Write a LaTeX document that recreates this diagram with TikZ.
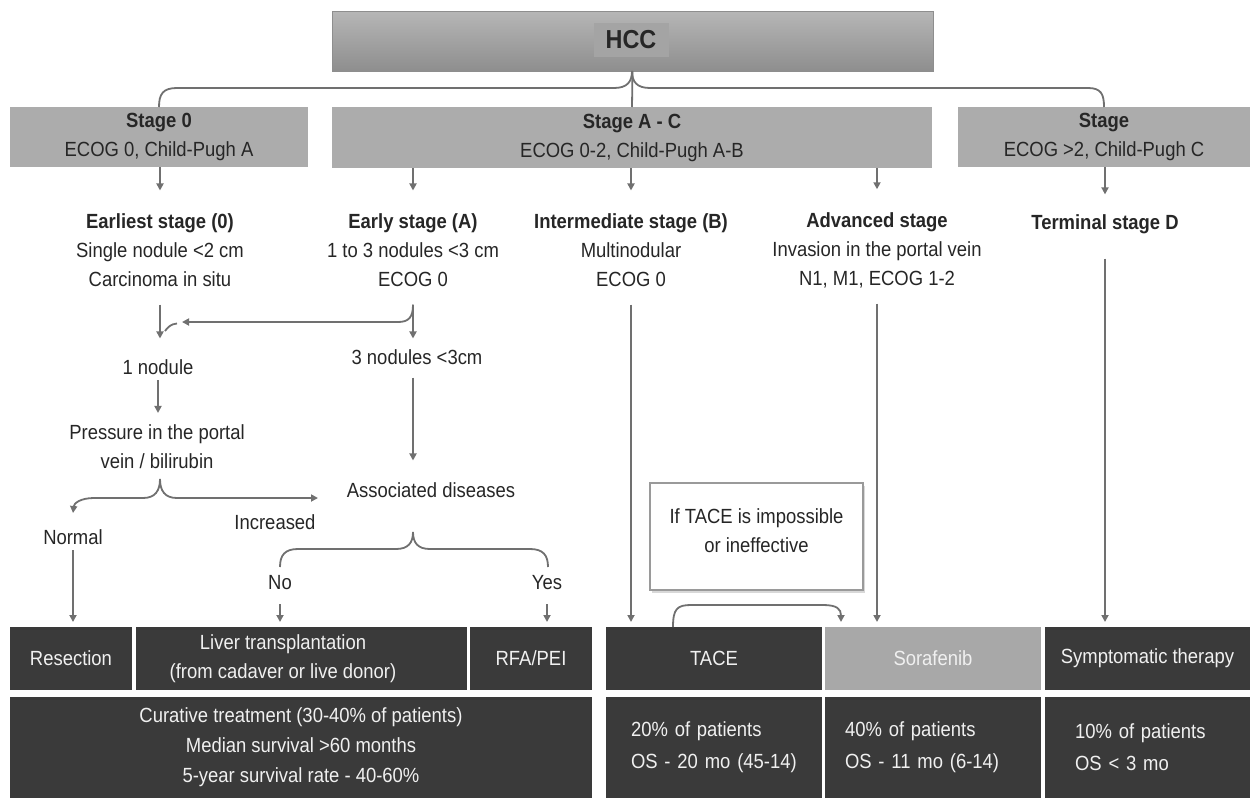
\documentclass[tikz,border=0pt]{standalone}
\usepackage{fontspec}
\setmainfont{Liberation Sans}[FakeStretch=0.9]
\usetikzlibrary{arrows.meta,shadows}
\definecolor{stagegray}{HTML}{ACACAC}
\definecolor{darkcell}{HTML}{3A3A3A}
\definecolor{linegray}{HTML}{707070}
\definecolor{sorgray}{HTML}{A8A8A8}
\definecolor{txtgray}{HTML}{262626}
\definecolor{hcctop}{HTML}{B6B6B6}
\definecolor{hccbot}{HTML}{8E8E8E}
\definecolor{hcclab}{HTML}{A4A4A4}
\definecolor{notegray}{HTML}{9A9A9A}
\begin{document}
\begin{tikzpicture}[x=1pt,y=-1pt,
  every node/.style={inner sep=0pt, outer sep=0pt, font=\fontsize{20.5}{29}\selectfont, text=txtgray},
  stagebox/.style={fill=stagegray, anchor=north west, align=center},
  cellbox/.style={fill=darkcell, anchor=north west, text=white!94!black, align=center},
  celltext/.style={text=white!94!black, align=center},
  coltext/.style={align=center},
  conn/.style={draw=linegray, line width=1.8pt},
  arr/.style={conn, -{Triangle[length=7pt,width=7pt]}},
]
\useasboundingbox (0,0) rectangle (1250,798);

% top box
\node[draw=hccbot, top color=hcctop, bottom color=hccbot, minimum width=601pt, minimum height=60pt, anchor=north west] (hcc) at (332,11) {};
\node[fill=hcclab, minimum width=75pt, minimum height=34pt, font=\fontsize{26}{30}\selectfont\bfseries] (hcclabel) at (631,40) {HCC};

% stage boxes
\node[stagebox, minimum width=298pt, minimum height=60pt] (s0) at (10,107) {\textbf{Stage 0}\\ECOG 0, Child-Pugh A};
\node[stagebox, minimum width=600pt, minimum height=61pt] (sac) at (332,107) {\textbf{Stage A - C}\\ECOG 0-2, Child-Pugh A-B};
\node[stagebox, minimum width=292pt, minimum height=60pt] (sd) at (958,107) {\textbf{Stage}\\ECOG >2, Child-Pugh C};

% brace from HCC
\draw[conn] (s0.north) .. controls (159,94) and (163,88) .. (177,88) -- (614,88) .. controls (627,88) and (632,82) .. (632,71);
\draw[conn] (632,71) .. controls (632,82) and (637,88) .. (650,88) -- (1088,88) .. controls (1101,88) and (1104,94) .. (sd.north);
\draw[conn] (hcc.south) -- (sac.north);

% column texts
\node[coltext] (c1) at (160,250) {\textbf{Earliest stage (0)}\\Single nodule <2 cm\\Carcinoma in situ};
\node[coltext] (c2) at (413,250) {\textbf{Early stage (A)}\\1 to 3 nodules <3 cm\\ECOG 0};
\node[coltext] (c3) at (631,250) {\textbf{Intermediate stage (B)}\\Multinodular\\ECOG 0};
\node[coltext] (c4) at (877,250) {\textbf{Advanced stage}\\Invasion in the portal vein\\N1, M1, ECOG 1-2};
\node (c5) at (1105,224) {\textbf{Terminal stage D}};

\draw[arr, shorten >=23pt] (c1.north |- s0.south) -- (c1.north);
\draw[arr, shorten >=23pt] (c2.north |- sac.south) -- (c2.north);
\draw[arr, shorten >=23pt] (c3.north |- sac.south) -- (c3.north);
\draw[arr, shorten >=23pt] (c4.north |- sac.south) -- (c4.north);
\draw[arr, shorten >=20pt] (c5.north |- sd.south) -- (c5.north);

% left flow
\node (n1) at (158,367) {1 nodule};
\node (n3) at (417,357) {3 nodules <3cm};
\node[coltext] (pv) at (157,447) {Pressure in the portal\\vein / bilirubin};
\node (ad) at (431,490) {Associated diseases};
\node (normal) at (73,537) {Normal};
\node (incr) at (275,522) {Increased};
\node (no) at (280,583) {No};
\node (yes) at (547,583) {Yes};

\coordinate (j1) at (182,322);
\coordinate (pvb) at (160,479);
\coordinate (j2) at (318,498);
\coordinate (adb) at (413,532);

\draw[arr, shorten <=18pt, shorten >=21pt] (c1.south) -- (c1.south |- n1.north);
\draw[arr, shorten <=18pt, shorten >=11pt] (c2.south) -- (c2.south |- n3.north);
\draw[arr] ([yshift=-18pt]c2.south) .. controls (413,317) and (409,322) .. (398,322) -- (j1);
\draw[conn] (177,323.5) .. controls (171,324) and (168,327) .. (165,331);
\draw[arr, shorten <=5.5pt, shorten >=12pt] (n1.south) -- (n1.south |- pv.north);
\draw[arr, shorten <=13pt, shorten >=22pt] (c2.south |- n3.south) -- (c2.south |- ad.north);

% brace under pressure
\draw[arr] (pvb) .. controls (160,491) and (155,498) .. (143,498) -- (94,498) .. controls (81,498) and (74,503) .. (73,513);
\draw[arr] (pvb) .. controls (160,491) and (165,498) .. (177,498) -- (j2);

% brace under associated diseases
\draw[conn] (adb) .. controls (413,543) and (408,549) .. (396,549) -- (298,549) .. controls (285,549) and (280,555) .. (280,567);
\draw[conn] (adb) .. controls (413,543) and (418,549) .. (430,549) -- (530,549) .. controls (543,549) and (548,555) .. (548,567);

% row 1 cells
\node[cellbox, minimum width=122pt, minimum height=63pt] (res) at (10,627) {Resection};
\node[cellbox, minimum width=331pt, minimum height=63pt] (liv) at (136,627) {};
\node[celltext] (livt) at (283,659) {Liver transplantation\\(from cadaver or live donor)};
\node[cellbox, minimum width=122pt, minimum height=63pt] (rfa) at (470,627) {RFA/PEI};
\node[cellbox, minimum width=216pt, minimum height=63pt] (tace) at (606,627) {TACE};
\node[cellbox, fill=sorgray, minimum width=216pt, minimum height=63pt] (sor) at (825,627) {Sorafenib};
\node[cellbox, minimum width=205pt, minimum height=63pt] (sym) at (1045,627) {Symptomatic therapy};

\draw[arr, shorten <=5.5pt, shorten >=5pt] (normal.south) -- (normal.south |- res.north);
\draw[arr, shorten <=14pt, shorten >=5pt] (no.south) -- (no.south |- liv.north);
\draw[arr, shorten <=14pt, shorten >=5pt] (yes.south) -- (yes.south |- rfa.north);

% row 2 cells
\node[cellbox, minimum width=582pt, minimum height=101pt, font=\fontsize{20.5}{30}\selectfont] (cur) at (10,697) {Curative treatment (30-40\% of patients)\\Median survival >60 months\\5-year survival rate - 40-60\%};
\node[cellbox, align=left, inner xsep=25pt, text width=166pt, minimum height=101pt, font=\fontsize{20.5}{32}\selectfont] (st) at (606,697) {20\% of patients\\OS - 20 mo (45-14)};
\node[cellbox, align=left, inner xsep=20pt, text width=176pt, minimum height=101pt, font=\fontsize{20.5}{32}\selectfont] (ss) at (825,697) {40\% of patients\\OS - 11 mo (6-14)};
\node[cellbox, align=left, inner xsep=30pt, text width=145pt, minimum height=101pt, font=\fontsize{20.5}{32}\selectfont] (sy) at (1045,697) {10\% of patients\\OS < 3 mo};

% note box
\node[draw=notegray, line width=1.5pt, fill=white, drop shadow={shadow xshift=2pt, shadow yshift=-3pt, fill=black!30}, minimum width=213pt, minimum height=107pt, anchor=north west, align=center] (note) at (650,483) {If TACE is impossible\\or ineffective\\[-17pt]\mbox{}};

% long lines
\draw[arr, shorten <=18pt, shorten >=5pt] (c3.south) -- (c3.south |- tace.north);
\draw[arr, shorten <=16pt, shorten >=5pt] (c4.south) -- (c4.south |- sor.north);
\draw[arr, shorten <=25pt, shorten >=5pt] (c5.south) -- (c5.south |- sym.north);

% TACE -> Sorafenib
\draw[arr, shorten >=5pt] ([xshift=-41pt]tace.north) .. controls (673,609) and (677,605) .. (691,605) -- (823,605) .. controls (837,605) and (841,609) .. ([xshift=-92pt]sor.north);
\end{tikzpicture}
\end{document}
